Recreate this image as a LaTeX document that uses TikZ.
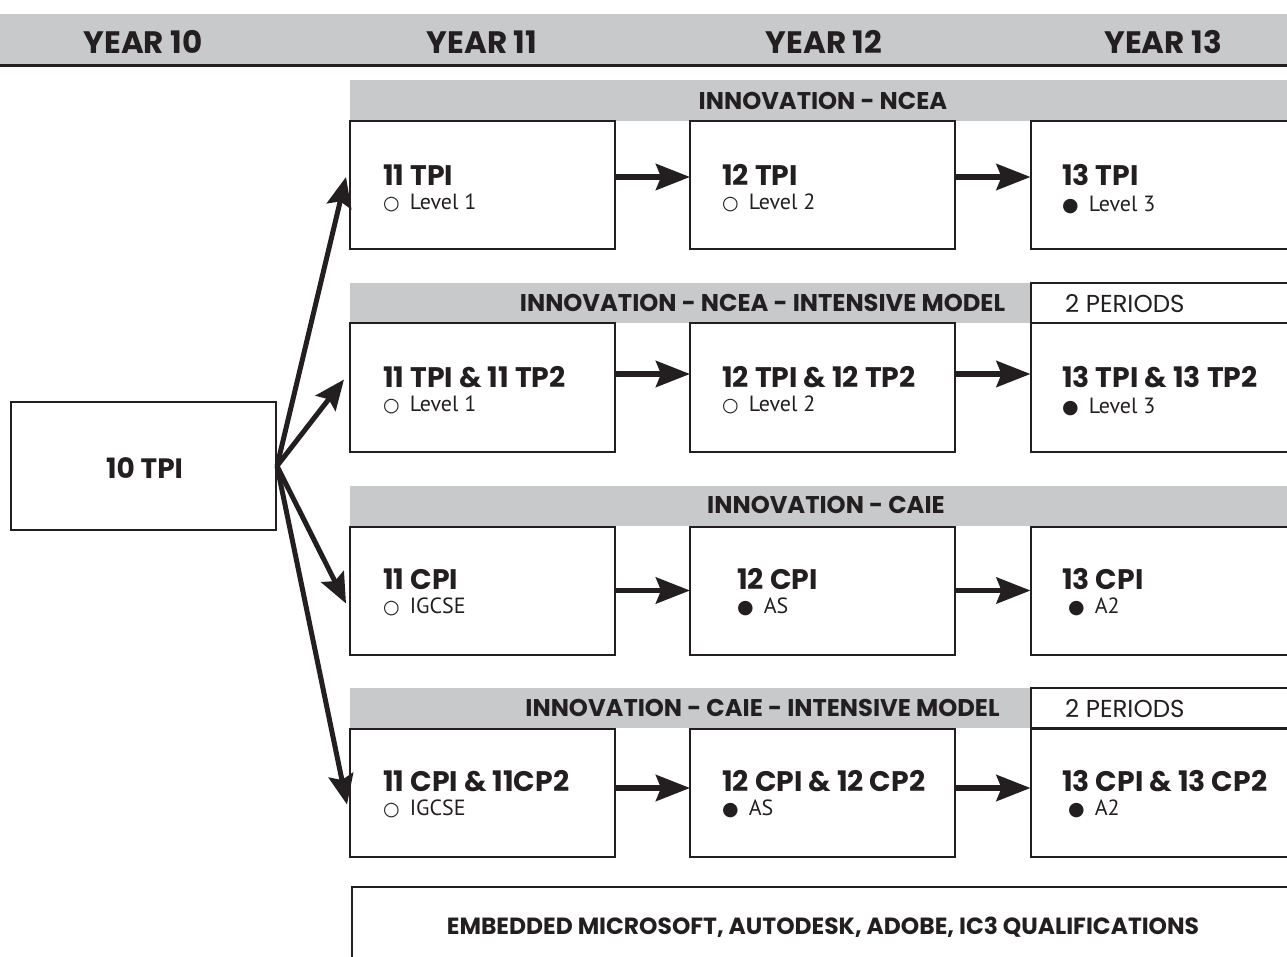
\documentclass[tikz,border=0pt]{standalone}
\usepackage{fontspec}
\setmainfont{PT Sans}
\newfontfamily\pop{Poppins}
\newfontfamily\symf{DejaVu Sans}
\usetikzlibrary{arrows.meta}
\definecolor{bandc}{HTML}{C8C9CB}
\definecolor{ink}{HTML}{231F20}
\newcommand\ocirc{{\symf\fontsize{19}{19}\selectfont ○}\hspace{10pt}}
\newcommand\fcirc{{\symf\fontsize{19}{19}\selectfont ●}\hspace{10pt}}
\begin{document}
\begin{tikzpicture}[x=1pt,y=-1pt,
  yr/.style={font=\pop\bfseries\fontsize{31}{31}\selectfont, text=ink, inner sep=0},
  bandtxt/.style={font=\pop\bfseries\fontsize{24.2}{24}\selectfont, text=ink, inner sep=0},
  pertxt/.style={font=\pop\fontsize{24.5}{24}\selectfont, text=ink, inner sep=0, anchor=west},
  ttl/.style={font=\pop\bfseries\fontsize{28.3}{28}\selectfont, text=ink, inner sep=0, anchor=west},
  sub/.style={font=\fontsize{22}{22}\selectfont, text=ink, inner sep=0, anchor=west},
  cbox/.style={draw=ink, line width=2pt, fill=white, minimum width=265pt, minimum height=128pt, inner sep=0, outer sep=0},
  bandbox/.style={fill=bandc, inner sep=0, outer sep=0, anchor=north west},
  perbox/.style={draw=ink, line width=2pt, fill=white, inner sep=0, outer sep=0, anchor=north west, minimum width=280pt, minimum height=40pt},
  harr/.style={draw=ink, line width=5.5pt, -{Stealth[length=34pt,width=26pt,inset=5pt]}},
  darr/.style={draw=ink, line width=5pt, -{Stealth[length=30pt,width=25pt,inset=5pt]}}
]
\useasboundingbox (0,0) rectangle (1287,957);
\clip (0,0) rectangle (1287,957);
\fill[white] (0,0) rectangle (1287,957);
% header
\node[bandbox, minimum width=1287pt, minimum height=52pt] (hdr) at (0,14) {};
\draw[ink, line width=3pt] (hdr.south west) -- (hdr.south east);
\node[yr] (y10) at (143,42) {YEAR 10};
\node[yr] (y11) at (482,42) {YEAR 11};
\node[yr] (y12) at (824,42) {YEAR 12};
\node[yr] (y13) at (1163,42) {YEAR 13};
% bands
\node[bandbox, minimum width=950pt, minimum height=41pt] (band1) at (350,80) {};
\node[bandtxt] (band1t) at (823,101) {INNOVATION - NCEA};
\node[bandbox, minimum width=680pt, minimum height=40pt] (band2) at (350,283) {};
\node[bandtxt] (band2t) at (762.5,303) {INNOVATION - NCEA - INTENSIVE MODEL};
\node[perbox] (per2) at (1031,283) {};
\node[pertxt] (per2t) at (1065,304) {2 PERIODS};
\node[bandbox, minimum width=950pt, minimum height=40pt] (band3) at (350,486) {};
\node[bandtxt] (band3t) at (826,505) {INNOVATION - CAIE};
\node[bandbox, minimum width=680pt, minimum height=40pt] (band4) at (350,688) {};
\node[bandtxt] (band4t) at (762.5,708) {INNOVATION - CAIE - INTENSIVE MODEL};
\node[perbox] (per4) at (1031,688) {};
\node[pertxt] (per4t) at (1065,709) {2 PERIODS};
% boxes
\node[cbox] (ten) at (143.5,466) {};
\node[yr, font=\pop\bfseries\fontsize{28}{28}\selectfont] (tent) at (144.5,468) {10 TPI};
\foreach \r/\y in {1/185,2/387.5,3/590.5,4/792.5}{
  \node[cbox] (r\r a) at (482.5,\y) {};
  \node[cbox] (r\r b) at (822.5,\y) {};
  \node[cbox] (r\r c) at (1163,\y) {};
}
% texts row 1
\node[ttl] (t1a) at (383,175) {11 TPI};
\node[sub] (s1a) at (383,203) {\ocirc Level 1};
\node[ttl] (t1b) at (722,175) {12 TPI};
\node[sub] (s1b) at (722,203) {\ocirc Level 2};
\node[ttl] (t1c) at (1062,175) {13 TPI};
\node[sub] (s1c) at (1062,205) {\fcirc Level 3};
% row 2
\node[ttl] (t2a) at (383,377) {11 TPI \& 11 TP2};
\node[sub] (s2a) at (383,405) {\ocirc Level 1};
\node[ttl] (t2b) at (722,377) {12 TPI \& 12 TP2};
\node[sub] (s2b) at (722,405) {\ocirc Level 2};
\node[ttl] (t2c) at (1062,377) {13 TPI \& 13 TP2};
\node[sub] (s2c) at (1062,407) {\fcirc Level 3};
% row 3
\node[ttl] (t3a) at (383,579) {11 CPI};
\node[sub] (s3a) at (383,607) {\ocirc IGCSE};
\node[ttl] (t3b) at (737,579) {12 CPI};
\node[sub] (s3b) at (737,607) {\fcirc AS};
\node[ttl] (t3c) at (1062,579) {13 CPI};
\node[sub] (s3c) at (1068,607) {\fcirc A2};
% row 4
\node[ttl] (t4a) at (383,781) {11 CPI \& 11CP2};
\node[sub] (s4a) at (383,809) {\ocirc IGCSE};
\node[ttl] (t4b) at (722,781) {12 CPI \& 12 CP2};
\node[sub] (s4b) at (722,809) {\fcirc AS};
\node[ttl] (t4c) at (1062,781) {13 CPI \& 13 CP2};
\node[sub] (s4c) at (1068,809) {\fcirc A2};
% bottom
\node[draw=ink, line width=2pt, fill=white, anchor=north west, minimum width=960pt, minimum height=120pt, inner sep=0] (emb) at (351,886) {};
\node[bandtxt, font=\pop\bfseries\fontsize{23.4}{23}\selectfont] (embt) at (823,927) {EMBEDDED MICROSOFT, AUTODESK, ADOBE, IC3 QUALIFICATIONS};
% horizontal arrows
\draw[harr] ([yshift=8pt]r1a.east) -- ([yshift=8pt]r1b.west);
\draw[harr] ([yshift=8pt]r1b.east) -- ([yshift=8pt]r1c.west);
\draw[harr] ([yshift=13.5pt]r2a.east) -- ([yshift=13.5pt]r2b.west);
\draw[harr] ([yshift=13.5pt]r2b.east) -- ([yshift=13.5pt]r2c.west);
\draw[harr] (r3a.east) -- (r3b.west);
\draw[harr] (r3b.east) -- (r3c.west);
\draw[harr] ([yshift=4.5pt]r4a.east) -- ([yshift=4.5pt]r4b.west);
\draw[harr] ([yshift=4.5pt]r4b.east) -- ([yshift=4.5pt]r4c.west);
% diagonal arrows
\coordinate (src) at ([xshift=1pt]ten.east);
\draw[darr] (src) -- ([shift={(-4pt,8pt)}]r1a.west);
\draw[darr] (src) -- ([shift={(-6pt,8pt)}]r2a.west);
\draw[darr] (src) -- ([shift={(-4pt,-13pt)}]r3a.west);
\draw[darr] (src) -- ([shift={(-3pt,-12pt)}]r4a.west);
\end{tikzpicture}
\end{document}
